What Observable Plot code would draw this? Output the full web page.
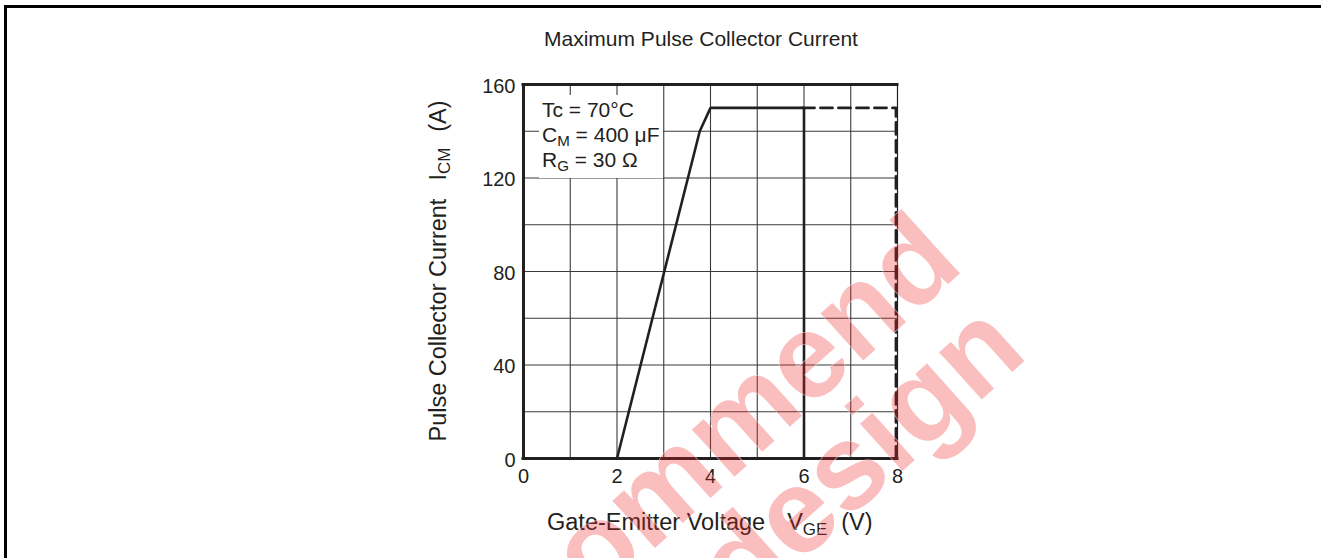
<!DOCTYPE html>
<html>
<head>
<meta charset="utf-8">
<script src="https://cdn.jsdelivr.net/npm/d3@7"></script>
<script src="https://cdn.jsdelivr.net/npm/@observablehq/plot@0.6"></script>
<style>
  html, body { margin: 0; padding: 0; background: #fff; }
  #wrap { position: relative; width: 1321px; height: 558px; overflow: hidden; font-family: "Liberation Sans", Arial, sans-serif; color: #231f20; }
  #border { position: absolute; left: 4px; top: 5px; right: 0; bottom: -10px; border-top: 3px solid #000; border-left: 3px solid #000; }
  #title { position: absolute; left: 0; width: 1402px; top: 27px; text-align: center; font-size: 21px; white-space: nowrap; }
  #plot { position: absolute; left: 0; top: 0; }
  #note { position: absolute; left: 539px; top: 95px; background: #fff; padding: 2px 3px 6px 3px; font-size: 21px; line-height: 25px; white-space: nowrap; }
  #xlabel { position: absolute; left: 547px; top: 509px; font-size: 23.5px; white-space: nowrap; }
  #ylabel { position: absolute; left: 438px; top: 271px; transform: translate(-50%, -50%) rotate(-90deg); font-size: 23.5px; white-space: nowrap; }
  sub { font-size: 0.72em; vertical-align: -0.28em; line-height: 0; }
  .gap { display: inline-block; }
  #wm { position: absolute; left: 0; top: 0; pointer-events: none; }
</style>
</head>
<body>
<div id="wrap">
  <div id="border"></div>
  <div id="title">Maximum Pulse Collector Current</div>
  <div id="plot"></div>
  <div id="note">Tc = 70°C<br>C<sub>M</sub> = 400 μF<br>R<sub>G</sub> = 30 Ω</div>
  <div id="xlabel">Gate-Emitter Voltage<span class="gap" style="width:22px"></span>V<sub>GE</sub><span class="gap" style="width:14px"></span>(V)</div>
  <div id="ylabel">Pulse Collector Current<span class="gap" style="width:18px"></span>I<sub>CM</sub><span class="gap" style="width:16px"></span>(A)</div>
</div>
<script>
// Data
const vgeSolid = [2.0, 3.77, 4.0, 6.0, 6.0];
const icmSolid = [0, 140, 150, 150, 0];
const vgeDashed = [6.0, 8.0, 8.0];
const icmDashed = [150, 150, 0];
const xTicks = [0, 2, 4, 6, 8];
const yTicks = [0, 40, 80, 120, 160];
const xGrid = [1, 2, 3, 4, 5, 6, 7];
const yGrid = [20, 40, 60, 80, 100, 120, 140];
const xFrameThick = [0];
const xFrameThin = [8];
const yFrame = [0, 160];
const watermarkLines = ["Not Recommend", "for new design"];

const solid = vgeSolid.map((v, i) => ({v, i: icmSolid[i]}));
const dashed = vgeDashed.map((v, i) => ({v, i: icmDashed[i]}));

const plot = Plot.plot({
  width: 1321,
  height: 558,
  marginLeft: 523,
  marginRight: 424,
  marginTop: 84,
  marginBottom: 100,
  style: {fontFamily: "'Liberation Sans', Arial, sans-serif", fontSize: "20px", color: "#231f20", background: "transparent"},
  x: {domain: [0, 8], label: null},
  y: {domain: [0, 160], label: null},
  marks: [
    Plot.ruleX(xGrid, {stroke: "#3a3a3a", strokeWidth: 1.1}),
    Plot.ruleY(yGrid, {stroke: "#3a3a3a", strokeWidth: 1.1}),
    Plot.ruleX(xFrameThin, {stroke: "#231f20", strokeWidth: 1.2}),
    Plot.ruleX(xFrameThick, {stroke: "#231f20", strokeWidth: 3}),
    Plot.ruleY(yFrame, {stroke: "#231f20", strokeWidth: 3, x1: 0, x2: 8, insetLeft: -1.5, insetRight: -1.5}),
    Plot.line(dashed, {x: "v", y: "i", stroke: "#231f20", strokeWidth: 2.8, strokeDasharray: "12,6", dx: -1.5}),
    Plot.line(solid, {x: "v", y: "i", stroke: "#231f20", strokeWidth: 2.6, strokeLinejoin: "miter"}),
    Plot.axisX(xTicks, {tickSize: 0, tickPadding: 10, fontSize: 20, label: null}),
    Plot.axisY(yTicks, {tickSize: 0, tickPadding: 8, fontSize: 20, label: null, dy: 2})
  ]
});
document.getElementById("plot").appendChild(plot);

// Watermark overlay
const svg = d3.select("#wrap").append("svg")
  .attr("id", "wm").attr("width", 1321).attr("height", 558);
const anchors = [[966, 268], [1030, 356]];
watermarkLines.forEach((t, k) => {
  svg.append("text")
    .attr("transform", `translate(${anchors[k][0]},${anchors[k][1]}) rotate(-42)`)
    .attr("text-anchor", "end")
    .attr("font-family", "'Liberation Sans', Arial, sans-serif")
    .attr("font-weight", "bold")
    .attr("font-size", 120)
    .attr("fill", "rgba(240,40,40,0.3)")
    .attr("stroke", "rgba(255,255,255,0.6)")
    .attr("stroke-width", 0.8)
    .attr("paint-order", "stroke")
    .text(t);
});
</script>
</body>
</html>
